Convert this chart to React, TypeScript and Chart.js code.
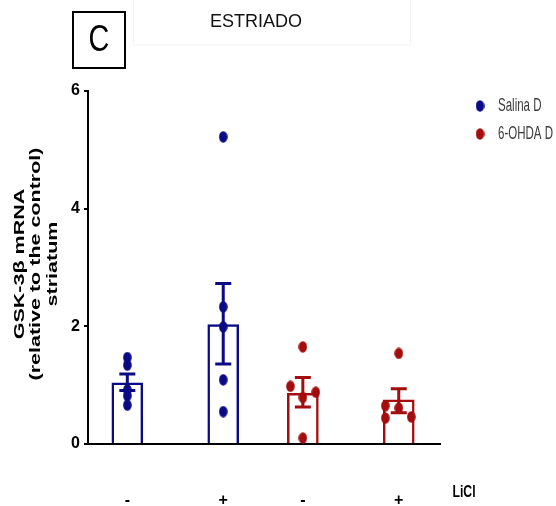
import React, { useEffect, useRef } from "react";
import { Chart, registerables } from "chart.js";

Chart.register(...registerables);

// ---- data ----
const groupLabels = ["-", "+", "-", "+"];
const groupX = [1, 2, 2.83, 3.83];
const barMeans = [1.04, 2.03, 0.86, 0.75];
const errHigh = [1.19, 2.73, 1.13, 0.94];
const errLow = [0.91, 1.36, 0.63, 0.53];

const salinaVehDots = [1.47, 1.34, 0.92, 0.82, 0.66];
const salinaVehJitter = [0, 0, 0, 0, 0];
const salinaLiclDots = [5.22, 2.33, 1.99, 1.09, 0.55];
const salinaLiclJitter = [0, 0, 0, 0, 0];
const ohdaVehDots = [1.65, 0.98, 0.88, 0.79, 0.1];
const ohdaVehJitter = [0, -0.13, 0.135, 0, 0];
const ohdaLiclDots = [1.54, 0.65, 0.61, 0.44, 0.46];
const ohdaLiclJitter = [0, -0.14, 0, -0.14, 0.13];

const seriesNames = ["Salina D", "6-OHDA D"];
const yTickValues = [0, 2, 4, 6];
const yTitleLines = ["GSK-3\u03b2 mRNA", "(relative to the control)", "striatum"];
const treatmentName = "LiCl";
const panelLetter = "C";
const panelTitle = "ESTRIADO";

// ---- styles ----
const BLUE = "#0a0a86";
const RED = "#a30d0d";
const groupColors = [BLUE, BLUE, RED, RED];

function makeDot(color: string) {
  const c = document.createElement("canvas");
  c.width = 9;
  c.height = 12;
  const g = c.getContext("2d")!;
  g.fillStyle = color;
  g.beginPath();
  g.ellipse(4.5, 6, 4.3, 5.7, 0, 0, Math.PI * 2);
  g.fill();
  return c;
}

function squashText(
  ctx: CanvasRenderingContext2D,
  text: string,
  x: number,
  y: number,
  font: string,
  sx: number,
  color: string,
  align: CanvasTextAlign = "center"
) {
  ctx.save();
  ctx.translate(x, y);
  ctx.scale(sx, 1);
  ctx.font = font;
  ctx.fillStyle = color;
  ctx.textAlign = align;
  ctx.textBaseline = "middle";
  ctx.fillText(text, 0, 0);
  ctx.restore();
}

export default function App() {
  const ref = useRef<HTMLCanvasElement>(null);

  useEffect(() => {
    const blueDot = makeDot(BLUE);
    const redDot = makeDot(RED);

    const errorBars = {
      id: "errorBars",
      afterDatasetDraw(chart: any, args: any) {
        if (args.index !== 0) return;
        const ctx = chart.ctx;
        const xs = chart.scales.x;
        const ys = chart.scales.y;
        ctx.save();
        groupX.forEach((gx, i) => {
          const px = xs.getPixelForValue(gx);
          const top = ys.getPixelForValue(errHigh[i]);
          const bot = ys.getPixelForValue(errLow[i]);
          ctx.strokeStyle = groupColors[i];
          ctx.lineWidth = 3;
          ctx.beginPath();
          ctx.moveTo(px, top);
          ctx.lineTo(px, bot);
          ctx.moveTo(px - 8, top);
          ctx.lineTo(px + 8, top);
          ctx.moveTo(px - 8, bot);
          ctx.lineTo(px + 8, bot);
          ctx.stroke();
        });
        ctx.restore();
      },
    };

    const decorations = {
      id: "decorations",
      afterDraw(chart: any) {
        const ctx: CanvasRenderingContext2D = chart.ctx;
        ctx.save();
        // faint title frame
        ctx.strokeStyle = "#f3f3f3";
        ctx.lineWidth = 1;
        ctx.strokeRect(133.5, -1, 277, 46);
        // panel letter box
        ctx.strokeStyle = "#000";
        ctx.lineWidth = 2;
        ctx.strokeRect(73, 12, 52, 56);
        squashText(ctx, panelLetter, 99, 41, "36px 'Liberation Sans', Arial", 0.8, "#000");
        // title
        squashText(ctx, panelTitle, 256, 22, "18px 'Liberation Sans', Arial", 1, "#111");
        // y title
        const lx = [20, 36, 53];
        yTitleLines.forEach((t, i) => {
          ctx.save();
          ctx.translate(lx[i], 264);
          ctx.scale(0.64, 1);
          ctx.rotate(-Math.PI / 2);
          ctx.font = "bold 21.5px 'Liberation Sans', Arial";
          ctx.fillStyle = "#000";
          ctx.textAlign = "center";
          ctx.textBaseline = "middle";
          ctx.fillText(t, 0, 0);
          ctx.restore();
        });
        // legend
        const dots = [blueDot, redDot];
        const ly = [106, 134];
        seriesNames.forEach((n, i) => {
          ctx.drawImage(dots[i], 480 - 4.5, ly[i] - 6);
          squashText(ctx, n, 498, ly[i], "18px 'Liberation Sans', Arial", 0.64, "#3a3a3a", "left");
        });
        // treatment label
        squashText(ctx, treatmentName, 464, 492, "bold 17px 'Liberation Sans', Arial", 0.72, "#000");
        ctx.restore();
      },
    };

    const pts = (vals: number[], jit: number[], gi: number) =>
      vals.map((v, k) => ({ x: groupX[gi] + jit[k], y: v }));

    const chart = new Chart(ref.current!, {
      type: "bar",
      data: {
        datasets: [
          {
            type: "bar",
            label: "means",
            data: groupX.map((x, i) => ({ x, y: barMeans[i] })) as any,
            backgroundColor: "#ffffff",
            borderColor: groupColors,
            borderWidth: 2.5,
            barThickness: 31,
            order: 2,
          } as any,
          {
            type: "scatter",
            label: seriesNames[0],
            data: [...pts(salinaVehDots, salinaVehJitter, 0), ...pts(salinaLiclDots, salinaLiclJitter, 1)],
            pointStyle: blueDot as any,
            pointRadius: 5,
            order: 1,
          } as any,
          {
            type: "scatter",
            label: seriesNames[1],
            data: [...pts(ohdaVehDots, ohdaVehJitter, 2), ...pts(ohdaLiclDots, ohdaLiclJitter, 3)],
            pointStyle: redDot as any,
            pointRadius: 5,
            order: 1,
          } as any,
        ],
      },
      options: {
        responsive: false,
        devicePixelRatio: 1,
        animation: false,
        events: [],
        layout: { padding: { left: 0, right: 116, top: 91, bottom: 0 } },
        plugins: {
          legend: { display: false },
          tooltip: { enabled: false },
          title: { display: false },
        },
        scales: {
          x: {
            type: "linear",
            min: 0.59,
            max: 4.26,
            offset: false,
            grid: { display: false },
            border: { display: true, color: "#000", width: 2 },
            afterBuildTicks: (scale: any) => {
              scale.ticks = groupX.map((v) => ({ value: v }));
            },
            afterFit: (scale: any) => {
              scale.height = 62;
            },
            ticks: {
              autoSkip: false,
              maxRotation: 0,
              padding: 39,
              color: "#000",
              font: { family: "'Liberation Sans Narrow', 'Liberation Sans', Arial", size: 16, weight: "bold" },
              callback: (_v: any, i: number) => groupLabels[i],
            },
          },
          y: {
            type: "linear",
            min: 0,
            max: 6,
            afterBuildTicks: (scale: any) => {
              scale.ticks = yTickValues.map((v) => ({ value: v }));
            },
            afterFit: (scale: any) => {
              scale.width = 88;
            },
            grid: {
              drawOnChartArea: false,
              drawTicks: true,
              tickLength: 4,
              color: "#000",
              lineWidth: 2,
            },
            border: { display: true, color: "#000", width: 2 },
            ticks: {
              padding: 4,
              color: "#000",
              font: { family: "'Liberation Sans Narrow', 'Liberation Sans', Arial", size: 16, weight: "bold" },
            },
          },
        },
      },
      plugins: [errorBars, decorations],
    });

    return () => chart.destroy();
  }, []);

  return (
    <div style={{ position: "absolute", left: 0, top: 0, width: 556, height: 506, background: "#fff" }}>
      <canvas ref={ref} width={556} height={506} style={{ width: 556, height: 506, display: "block" }} />
    </div>
  );
}
